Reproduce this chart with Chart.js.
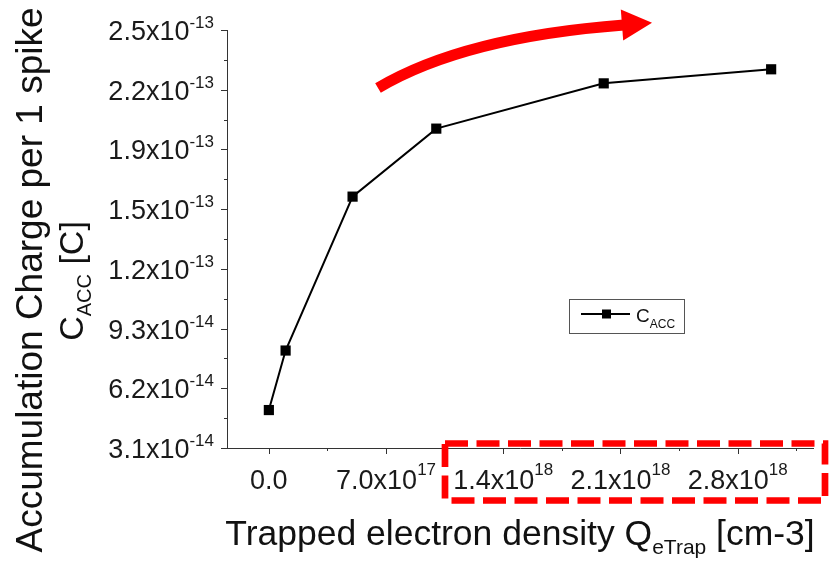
<!DOCTYPE html>
<html>
<head>
<meta charset="utf-8">
<script src="https://cdn.jsdelivr.net/npm/chart.js@4.4.1/dist/chart.umd.min.js"></script>
<style>
  html, body { margin: 0; padding: 0; background: #fff; }
  canvas { display: block; }
</style>
</head>
<body>
<canvas id="chart" width="831" height="561"></canvas>
<script>
// Data
const trapDensity = [0, 1e17, 5e17, 1e18, 2e18, 3e18];
const accCharge = [5.07e-14, 8.16e-14, 1.615e-13, 1.968e-13, 2.203e-13, 2.276e-13];

const xTickValues = [0, 7e17, 1.4e18, 2.1e18, 2.8e18];
const xTickBase = ['0.0', '7.0x10', '1.4x10', '2.1x10', '2.8x10'];
const xTickExp = ['', '17', '18', '18', '18'];
const xMinorValues = [3.5e17, 1.05e18, 1.75e18, 2.45e18, 3.15e18];

const yTickValues = [3.1e-14, 6.2e-14, 9.3e-14, 1.24e-13, 1.55e-13, 1.86e-13, 2.17e-13, 2.48e-13];
const yTickBase = ['3.1x10', '6.2x10', '9.3x10', '1.2x10', '1.5x10', '1.9x10', '2.2x10', '2.5x10'];
const yTickExp = ['-14', '-14', '-14', '-13', '-13', '-13', '-13', '-13'];
const yMinorValues = [4.65e-14, 7.75e-14, 1.085e-13, 1.395e-13, 1.705e-13, 2.015e-13, 2.325e-13];

const FONT = '"Liberation Sans", Arial, sans-serif';

// draw a run of text pieces (base / superscript / subscript) on one baseline
function drawRich(ctx, parts, x, y, align) {
  let total = 0;
  parts.forEach(p => {
    ctx.font = p.size + 'px ' + FONT;
    p.w = ctx.measureText(p.text).width;
    total += p.w;
  });
  let cx = align === 'right' ? x - total : align === 'center' ? x - total / 2 : x;
  ctx.textAlign = 'left';
  ctx.textBaseline = 'alphabetic';
  parts.forEach(p => {
    ctx.font = p.size + 'px ' + FONT;
    ctx.fillText(p.text, cx, y + (p.dy || 0));
    cx += p.w;
  });
}

const overlay = {
  id: 'overlay',
  afterDraw(chart) {
    const ctx = chart.ctx;
    const xs = chart.scales.x;
    const ys = chart.scales.y;
    const area = chart.chartArea;
    ctx.save();

    // tick marks
    ctx.strokeStyle = '#333';
    ctx.lineWidth = 1;
    ctx.beginPath();
    xTickValues.forEach(v => {
      const px = Math.round(xs.getPixelForValue(v)) + 0.5;
      ctx.moveTo(px, area.bottom); ctx.lineTo(px, area.bottom + 6);
    });
    xMinorValues.forEach(v => {
      const px = Math.round(xs.getPixelForValue(v)) + 0.5;
      ctx.moveTo(px, area.bottom); ctx.lineTo(px, area.bottom + 3);
    });
    yTickValues.forEach(v => {
      const py = Math.round(ys.getPixelForValue(v)) + 0.5;
      ctx.moveTo(area.left, py); ctx.lineTo(area.left - 6, py);
    });
    yMinorValues.forEach(v => {
      const py = Math.round(ys.getPixelForValue(v)) + 0.5;
      ctx.moveTo(area.left, py); ctx.lineTo(area.left - 3, py);
    });
    ctx.stroke();

    // tick labels
    ctx.fillStyle = '#1a1a1a';
    xTickValues.forEach((v, i) => {
      const px = xs.getPixelForValue(v);
      const parts = [{ text: xTickBase[i], size: 27 }];
      if (xTickExp[i]) parts.push({ text: xTickExp[i], size: 17, dy: -14 });
      drawRich(ctx, parts, px, area.bottom + 41, 'center');
    });
    yTickValues.forEach((v, i) => {
      const py = ys.getPixelForValue(v);
      drawRich(ctx, [
        { text: yTickBase[i], size: 27 },
        { text: yTickExp[i], size: 17, dy: -12 }
      ], area.left - 13, py + 10, 'right');
    });

    // axis titles
    ctx.fillStyle = '#111';
    drawRich(ctx, [
      { text: 'Trapped electron density Q', size: 35.5 },
      { text: 'eTrap', size: 21, dy: 9 },
      { text: ' [cm-3]', size: 35.5 }
    ], 520, 545, 'center');

    ctx.save();
    ctx.translate(42, 280);
    ctx.rotate(-Math.PI / 2);
    drawRich(ctx, [{ text: 'Accumulation Charge per 1 spike', size: 37 }], 0, 0, 'center');
    ctx.restore();
    ctx.save();
    ctx.translate(83, 281);
    ctx.rotate(-Math.PI / 2);
    drawRich(ctx, [
      { text: 'C', size: 34 },
      { text: 'ACC', size: 20, dy: 8 },
      { text: ' [C]', size: 34 }
    ], 0, 0, 'center');
    ctx.restore();

    // legend
    ctx.strokeStyle = '#555';
    ctx.lineWidth = 1;
    ctx.strokeRect(569.5, 299.5, 115, 34);
    ctx.strokeStyle = '#000';
    ctx.lineWidth = 2;
    ctx.beginPath();
    ctx.moveTo(581, 314); ctx.lineTo(630, 314);
    ctx.stroke();
    ctx.fillStyle = '#000';
    ctx.fillRect(602, 309.5, 9, 9);
    ctx.fillStyle = '#111';
    drawRich(ctx, [
      { text: 'C', size: 19 },
      { text: 'ACC', size: 12, dy: 6 }
    ], 636, 322, 'left');

    // red curved arrow
    ctx.strokeStyle = '#ff0000';
    ctx.fillStyle = '#ff0000';
    ctx.lineWidth = 11;
    ctx.lineCap = 'butt';
    ctx.beginPath();
    ctx.moveTo(378, 88);
    ctx.quadraticCurveTo(464, 37, 624, 25);
    ctx.stroke();
    ctx.beginPath();
    ctx.moveTo(652, 22.7);
    ctx.lineTo(620.8, 9.5);
    ctx.lineTo(623.2, 40.5);
    ctx.closePath();
    ctx.fill();

    // red dashed box
    ctx.lineWidth = 6.7;
    ctx.setLineDash([23, 8.5]);
    ctx.strokeRect(445, 443.5, 380, 57);
    ctx.setLineDash([]);

    ctx.restore();
  }
};

const ctx = document.getElementById('chart').getContext('2d');
new Chart(ctx, {
  type: 'line',
  data: {
    datasets: [{
      label: 'CACC',
      data: trapDensity.map((x, i) => ({ x: x, y: accCharge[i] })),
      borderColor: '#000',
      borderWidth: 2,
      backgroundColor: '#000',
      pointStyle: 'rect',
      pointRadius: 7.2,
      pointBorderWidth: 0,
      pointBackgroundColor: '#000',
      tension: 0,
      clip: false
    }]
  },
  options: {
    responsive: false,
    devicePixelRatio: 1,
    animation: false,
    layout: { padding: { left: 227, top: 30, right: 18, bottom: 113 } },
    plugins: {
      legend: { display: false },
      tooltip: { enabled: false }
    },
    scales: {
      x: {
        type: 'linear',
        min: -2.5e17,
        max: 3.25e18,
        grid: { display: false },
        border: { display: true, color: '#333', width: 1 },
        ticks: { display: false },
        afterFit: s => { s.height = 0; }
      },
      y: {
        type: 'linear',
        min: 3.1e-14,
        max: 2.48e-13,
        grid: { display: false },
        border: { display: true, color: '#333', width: 1 },
        ticks: { display: false },
        afterFit: s => { s.width = 0; }
      }
    }
  },
  plugins: [overlay]
});
</script>
</body>
</html>
